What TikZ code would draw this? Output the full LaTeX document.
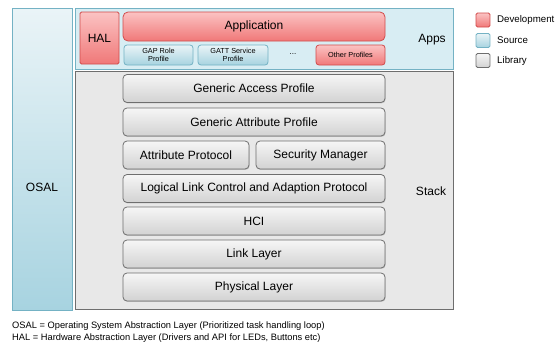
\documentclass[tikz,border=0pt]{standalone}
\usepackage{fontspec}
\setmainfont{Liberation Sans}
\usetikzlibrary{shadows}
\definecolor{redtop}{HTML}{FBC3C3}
\definecolor{redbot}{HTML}{F07878}
\definecolor{redline}{HTML}{D24B4B}
\definecolor{bluetop}{HTML}{EAF4F7}
\definecolor{bluebot}{HTML}{A7D3E0}
\definecolor{blueline}{HTML}{74B2C4}
\definecolor{appsbg}{HTML}{D8EDF3}
\definecolor{graytop}{HTML}{F6F6F6}
\definecolor{graybot}{HTML}{D2D2D2}
\definecolor{grayline}{HTML}{6E6E6E}
\definecolor{stackbg}{HTML}{E8E8E8}
\begin{document}
\begin{tikzpicture}[x=1pt,y=-1pt,
  box/.style={inner sep=0pt, outer sep=0pt, line width=0.8pt},
  devbox/.style={box, draw=redline, top color=redtop, bottom color=redbot},
  srcbox/.style={box, draw=blueline, top color=bluetop, bottom color=bluebot},
  libbox/.style={box, draw=grayline, top color=graytop, bottom color=graybot, rounded corners=4pt,
     drop shadow={shadow xshift=0.6pt, shadow yshift=-0.9pt, opacity=0.35}},
  layer/.style={libbox, minimum width=262pt, minimum height=28pt, font=\fontsize{12}{14}\selectfont},
  prof/.style={minimum width=69pt, minimum height=20pt, rounded corners=3pt, align=center,
     font=\fontsize{7.3}{8}\selectfont},
  lbl/.style={inner sep=0pt, font=\fontsize{12}{14}\selectfont},
  leg/.style={box, minimum width=14pt, minimum height=14pt, rounded corners=1.5pt},
  legtxt/.style={inner sep=0pt, anchor=west, font=\fontsize{9.7}{11}\selectfont},
  note/.style={inner sep=0pt, anchor=west, font=\fontsize{9.3}{10}\selectfont}
]
\useasboundingbox (0,0) rectangle (557,343);
% OSAL
\node[srcbox, minimum width=60pt, minimum height=302pt] (osal) at (42,159) {};
\node[lbl] (osaltxt) at (42,187) {OSAL};
% Apps
\node[box, draw=blueline, fill=appsbg, minimum width=378pt, minimum height=61pt] (apps) at (264,38.5) {};
\node[lbl] (appstxt) at (432,39.5) {Apps};
\node[devbox, minimum width=39pt, minimum height=52pt, rounded corners=1.5pt, font=\fontsize{12}{14}\selectfont] (hal) at (99.5,38) {HAL};
\node[devbox, minimum width=262pt, minimum height=29pt, rounded corners=5pt, font=\fontsize{12}{14}\selectfont] (app) at (254,26.5) {Application};
\node[srcbox, prof] (gaprole) at (158.5,55) {GAP Role\\Profile};
\node[srcbox, prof, minimum width=70pt] (gattsvc) at (233,55) {GATT Service\\Profile};
\node[inner sep=0pt, font=\fontsize{8}{9}\selectfont] (dots) at (293,54) {...};
\node[devbox, prof] (other) at (350.5,55) {Other Profiles};
% Stack
\node[box, draw=grayline, fill=stackbg, minimum width=378pt, minimum height=238pt] (stack) at (264,190) {};
\node[lbl] (stacktxt) at (431,191) {Stack};
\node[layer] (gap) at (254,88.5) {Generic Access Profile};
\node[layer] (gatt) at (254,122) {Generic Attribute Profile};
\node[layer, minimum width=126pt] (att) at (186,155) {Attribute Protocol};
\node[layer, minimum width=129pt] (sm) at (320.5,155) {Security Manager};
\node[layer] (l2cap) at (254,188.5) {Logical Link Control and Adaption Protocol};
\node[layer] (hci) at (254,221) {HCI};
\node[layer] (ll) at (254,254) {Link Layer};
\node[layer] (phy) at (254,287) {Physical Layer};
% Legend
\node[leg, devbox] (legdev) at (483,20) {};
\node[legtxt] (legdevt) at (497,20) {Development};
\node[leg, srcbox] (legsrc) at (483,40.5) {};
\node[legtxt] (legsrct) at (497,40.5) {Source};
\node[leg, draw=grayline, top color=graytop, bottom color=graybot] (leglib) at (483,60.5) {};
\node[legtxt] (leglibt) at (497,60.5) {Library};
% Notes
\node[note] (n1) at (12,326.5) {OSAL = Operating System Abstraction Layer (Prioritized task handling loop)};
\node[note] (n2) at (12,338.5) {HAL = Hardware Abstraction Layer (Drivers and API for LEDs, Buttons etc)};
\end{tikzpicture}
\end{document}
